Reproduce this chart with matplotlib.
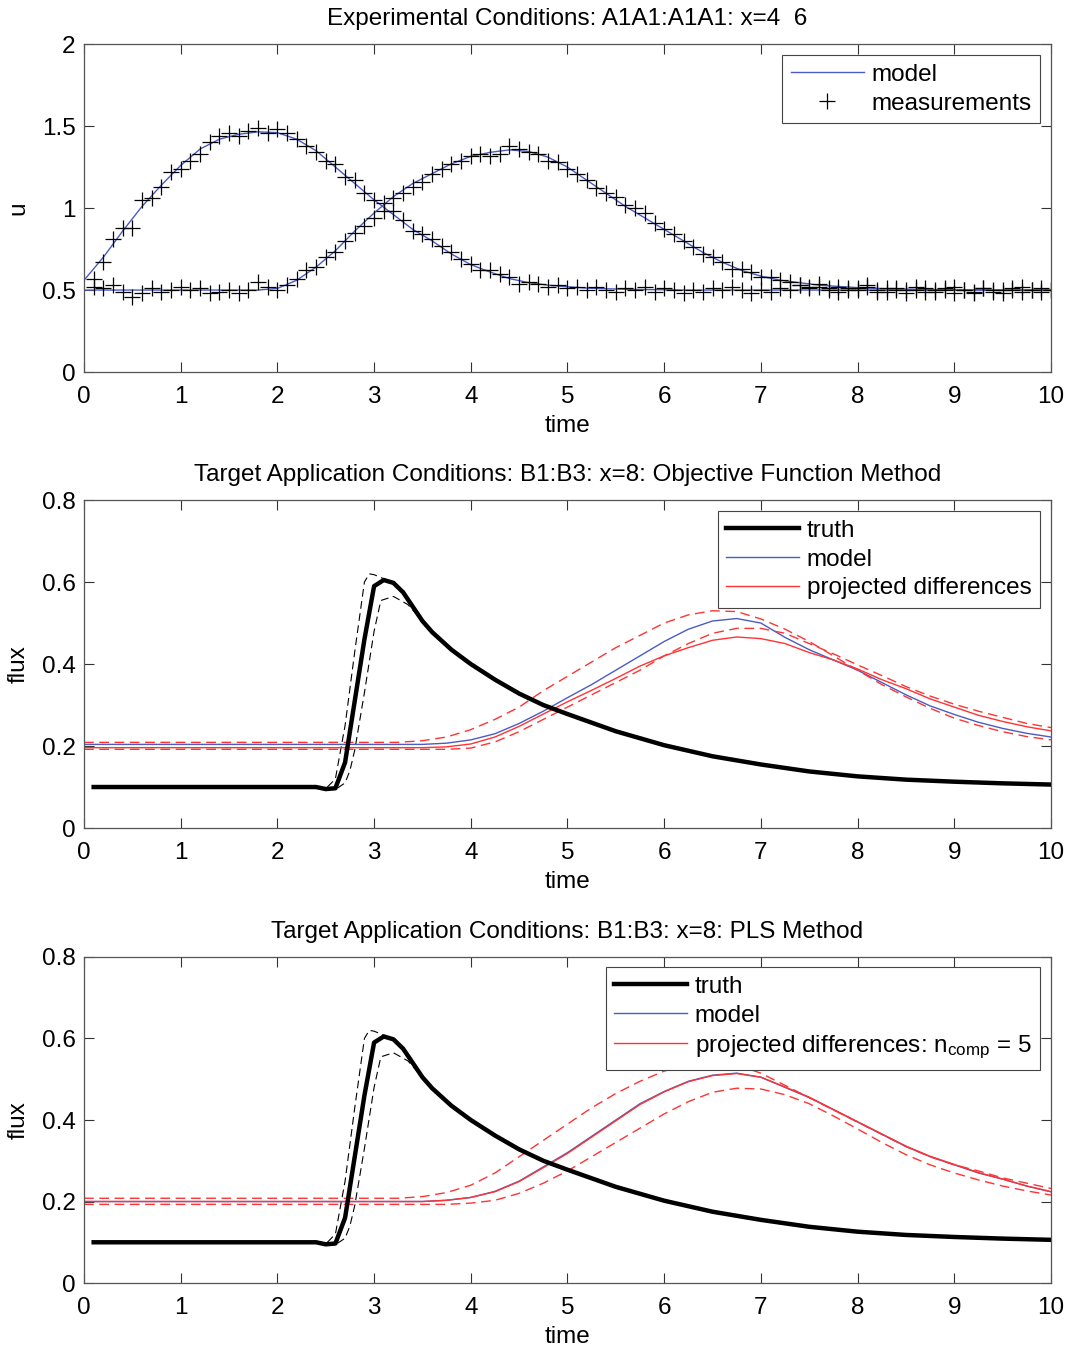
import numpy as np
import matplotlib
matplotlib.use("Agg")
import matplotlib.pyplot as plt

plt.rcParams['font.family'] = ['Liberation Sans', 'DejaVu Sans']
plt.rcParams['mathtext.fontset'] = 'custom'
plt.rcParams['mathtext.rm'] = 'Liberation Sans'
plt.rcParams['mathtext.it'] = 'Liberation Sans'

# ---- experimental conditions: model fit and measurements ----
t_model = np.linspace(0, 10, 51)
model_a = [0.56, 0.70, 0.86, 1.01, 1.14, 1.26, 1.36, 1.42, 1.45, 1.465,
           1.46, 1.42, 1.35, 1.25, 1.15, 1.05, 0.96, 0.87, 0.80, 0.72,
           0.655, 0.61, 0.57, 0.545, 0.53, 0.52, 0.512, 0.508, 0.505, 0.503,
           0.502, 0.5, 0.5, 0.5, 0.5, 0.5, 0.5, 0.5, 0.5, 0.5,
           0.5, 0.5, 0.5, 0.5, 0.5, 0.5, 0.5, 0.5, 0.5, 0.5, 0.5]
model_b = [0.5, 0.5, 0.5, 0.5, 0.5, 0.5, 0.5, 0.5, 0.5, 0.5,
           0.51, 0.56, 0.64, 0.74, 0.86, 0.97, 1.07, 1.15, 1.21, 1.27,
           1.315, 1.34, 1.355, 1.345, 1.31, 1.25, 1.17, 1.09, 1.01, 0.94,
           0.87, 0.80, 0.73, 0.67, 0.62, 0.585, 0.56, 0.545, 0.53, 0.522,
           0.515, 0.51, 0.507, 0.505, 0.503, 0.502, 0.5, 0.5, 0.5, 0.5, 0.5]

t_meas = np.linspace(0.1, 10, 100)
meas_a = [0.57, 0.67, 0.81, 0.88, 0.88, 1.05, 1.06, 1.13, 1.22, 1.24,
          1.29, 1.33, 1.40, 1.44, 1.46, 1.44, 1.47, 1.49, 1.46, 1.48,
          1.46, 1.42, 1.38, 1.34, 1.29, 1.27, 1.19, 1.17, 1.09, 1.05,
          1.03, 0.98, 0.93, 0.86, 0.84, 0.81, 0.77, 0.73, 0.69, 0.66,
          0.62, 0.62, 0.60, 0.58, 0.54, 0.55, 0.54, 0.52, 0.53, 0.51,
          0.52, 0.50, 0.52, 0.50, 0.49, 0.51, 0.50, 0.52, 0.49, 0.51,
          0.50, 0.48, 0.50, 0.49, 0.51, 0.50, 0.52, 0.50, 0.48, 0.50,
          0.49, 0.51, 0.50, 0.53, 0.51, 0.52, 0.50, 0.49, 0.51, 0.50,
          0.52, 0.49, 0.51, 0.50, 0.48, 0.50, 0.51, 0.49, 0.50, 0.52,
          0.50, 0.48, 0.51, 0.49, 0.50, 0.51, 0.49, 0.50, 0.51, 0.50]
meas_b = [0.52, 0.51, 0.53, 0.49, 0.46, 0.48, 0.51, 0.49, 0.50, 0.52,
          0.50, 0.51, 0.48, 0.49, 0.50, 0.48, 0.50, 0.55, 0.52, 0.50,
          0.53, 0.57, 0.62, 0.64, 0.70, 0.73, 0.80, 0.85, 0.89, 0.94,
          0.98, 1.06, 1.09, 1.13, 1.16, 1.21, 1.24, 1.27, 1.29, 1.32,
          1.33, 1.32, 1.33, 1.38, 1.36, 1.34, 1.33, 1.29, 1.28, 1.24,
          1.21, 1.17, 1.12, 1.09, 1.07, 1.02, 1.00, 0.97, 0.91, 0.87,
          0.84, 0.80, 0.76, 0.72, 0.70, 0.67, 0.63, 0.63, 0.61, 0.58,
          0.58, 0.56, 0.55, 0.53, 0.52, 0.54, 0.51, 0.52, 0.50, 0.51,
          0.53, 0.50, 0.49, 0.51, 0.50, 0.52, 0.49, 0.50, 0.51, 0.48,
          0.50, 0.49, 0.51, 0.50, 0.48, 0.50, 0.52, 0.50, 0.49, 0.50]

# ---- target application: truth and its bounds ----
truth_t = [0.1, 0.5, 1.0, 1.5, 2.0, 2.4, 2.5, 2.6, 2.7, 2.8, 2.9, 3.0, 3.1,
           3.2, 3.3, 3.4, 3.5, 3.6, 3.8, 4.0, 4.25, 4.5, 4.75, 5.0, 5.5,
           6.0, 6.5, 7.0, 7.5, 8.0, 8.5, 9.0, 9.5, 10.0]
truth = [0.10, 0.10, 0.10, 0.10, 0.10, 0.10, 0.095, 0.097, 0.16, 0.31,
         0.46, 0.59, 0.605, 0.598, 0.575, 0.54, 0.505, 0.478, 0.435, 0.40,
         0.362, 0.328, 0.30, 0.278, 0.236, 0.202, 0.175, 0.155, 0.138, 0.126,
         0.118, 0.113, 0.109, 0.106]
hi_t = [2.4, 2.5, 2.6, 2.7, 2.8, 2.9, 2.95, 3.0, 3.1, 3.2, 3.35, 3.5]
truth_hi = [0.10, 0.096, 0.12, 0.25, 0.43, 0.60, 0.62, 0.618, 0.608, 0.595,
            0.56, 0.51]
lo_t = [2.5, 2.6, 2.7, 2.75, 2.8, 2.9, 3.0, 3.07, 3.2, 3.35, 3.5, 3.6]
truth_lo = [0.095, 0.094, 0.11, 0.14, 0.19, 0.33, 0.48, 0.555, 0.565, 0.545,
            0.505, 0.478]

t_flux = np.linspace(0, 10, 41)
# objective function method
model_ofm = [0.204] * 15 + [
    0.207, 0.215, 0.23, 0.255, 0.285, 0.318, 0.35, 0.385, 0.42, 0.455,
    0.485, 0.505, 0.511, 0.50, 0.465, 0.435, 0.41, 0.385, 0.355, 0.325,
    0.298, 0.277, 0.258, 0.243, 0.231, 0.222]
proj_ofm = [0.196] * 15 + [
    0.198, 0.205, 0.222, 0.248, 0.278, 0.308, 0.336, 0.365, 0.395, 0.42,
    0.44, 0.458, 0.466, 0.462, 0.45, 0.428, 0.41, 0.388, 0.362, 0.34,
    0.315, 0.295, 0.275, 0.26, 0.247, 0.237]
proj_ofm_hi = [0.209] * 14 + [
    0.213, 0.222, 0.24, 0.265, 0.295, 0.335, 0.37, 0.405, 0.44, 0.47,
    0.50, 0.52, 0.53, 0.528, 0.51, 0.485, 0.455, 0.42, 0.385, 0.35,
    0.32, 0.292, 0.268, 0.25, 0.235, 0.223, 0.215]
proj_ofm_lo = [0.192] * 16 + [
    0.195, 0.21, 0.235, 0.265, 0.295, 0.325, 0.355, 0.385, 0.42, 0.45,
    0.475, 0.487, 0.487, 0.475, 0.45, 0.425, 0.398, 0.372, 0.345, 0.322,
    0.302, 0.285, 0.27, 0.255, 0.245]

# PLS method
model_pls = [0.2] * 15 + [
    0.203, 0.21, 0.225, 0.25, 0.285, 0.32, 0.36, 0.40, 0.44, 0.47,
    0.495, 0.51, 0.515, 0.505, 0.48, 0.455, 0.425, 0.395, 0.365, 0.335,
    0.31, 0.29, 0.27, 0.255, 0.238, 0.224]
proj_pls = [0.2] * 15 + [
    0.203, 0.21, 0.224, 0.249, 0.283, 0.318, 0.358, 0.398, 0.438, 0.469,
    0.494, 0.509, 0.514, 0.505, 0.481, 0.456, 0.426, 0.396, 0.366, 0.336,
    0.311, 0.291, 0.271, 0.255, 0.238, 0.224]
proj_pls_hi = [0.208] * 14 + [
    0.212, 0.222, 0.24, 0.27, 0.31, 0.35, 0.39, 0.43, 0.465, 0.495,
    0.52, 0.535, 0.54, 0.535, 0.515, 0.485, 0.455, 0.425, 0.395, 0.365,
    0.335, 0.31, 0.29, 0.275, 0.258, 0.245, 0.232]
proj_pls_lo = [0.193] * 16 + [
    0.196, 0.203, 0.22, 0.245, 0.275, 0.31, 0.345, 0.38, 0.415, 0.445,
    0.468, 0.478, 0.476, 0.462, 0.44, 0.41, 0.378, 0.345, 0.315, 0.29,
    0.27, 0.253, 0.238, 0.226, 0.216]

blue = '#4a5cc4'
red = '#ff3333'
fs = 17.5

fig = plt.figure(figsize=(10.7, 13.49), dpi=100)


def style_axes(ax, ylim, yticks, yticklabels, ylabel):
    ax.set_xlim(0, 10)
    ax.set_ylim(*ylim)
    ax.set_xticks(range(11))
    ax.set_xticklabels([str(i) for i in range(11)])
    ax.set_yticks(yticks)
    ax.set_yticklabels(yticklabels)
    ax.tick_params(direction='in', length=7, width=0.8, top=True, right=True,
                   labelsize=fs, colors='#333333', labelcolor='black')
    ax.tick_params(axis='x', pad=10)
    ax.tick_params(axis='y', pad=6)
    for s in ax.spines.values():
        s.set_color('#555555')
        s.set_linewidth(0.9)
    ax.set_xlabel('time', fontsize=fs, labelpad=5)
    ax.set_ylabel(ylabel, fontsize=fs, labelpad=9)


def add_legend(ax, top):
    leg = ax.legend(loc='upper right', bbox_to_anchor=(0.972, top),
                    bbox_transform=fig.transFigure, fontsize=fs, handlelength=3.0,
                    fancybox=False, framealpha=1, borderpad=0.36, labelspacing=0.28,
                    handletextpad=0.3, borderaxespad=0)
    leg.get_frame().set_edgecolor('#444444')
    leg.get_frame().set_linewidth(0.8)
    return leg


# top: experimental conditions
ax1 = fig.add_axes([0.0785, 0.7242, 0.9037, 0.2431])
ax1.plot(t_model, model_a, color=blue, lw=1.0, label='model')
ax1.plot(t_model, model_b, color=blue, lw=1.0)
ax1.plot(t_meas, meas_a, '+', color='black', ms=11, mew=0.9, label='measurements')
ax1.plot(t_meas, meas_b, '+', color='black', ms=11, mew=0.9)
style_axes(ax1, (0, 2), [0, 0.5, 1, 1.5, 2], ['0', '0.5', '1', '1.5', '2'], 'u')
ax1.set_title('Experimental Conditions: A1A1:A1A1: x=4  6', fontsize=fs, pad=14)
add_legend(ax1, 0.9592)


def flux_panel(rect, title, model, proj, proj_hi, proj_lo, proj_label):
    ax = fig.add_axes(rect)
    ax.plot(truth_t, truth, color='black', lw=3.2, label='truth', zorder=3)
    ax.plot(hi_t, truth_hi, color='black', lw=0.8, ls=(0, (7, 4)), zorder=2)
    ax.plot(lo_t, truth_lo, color='black', lw=0.8, ls=(0, (7, 4)), zorder=2)
    ax.plot(t_flux, model, color=blue, lw=1.0, label='model', zorder=2)
    ax.plot(t_flux, proj, color=red, lw=1.0, label=proj_label, zorder=2)
    ax.plot(t_flux, proj_hi, color=red, lw=1.0, ls=(0, (7, 4)), zorder=2)
    ax.plot(t_flux, proj_lo, color=red, lw=1.0, ls=(0, (7, 4)), zorder=2)
    style_axes(ax, (0, 0.8), [0, 0.2, 0.4, 0.6, 0.8],
               ['0', '0.2', '0.4', '0.6', '0.8'], 'flux')
    ax.set_title(title, fontsize=fs, pad=14)
    return ax


ax2 = flux_panel([0.0785, 0.3862, 0.9037, 0.2431],
                 'Target Application Conditions: B1:B3: x=8: Objective Function Method',
                 model_ofm, proj_ofm, proj_ofm_hi, proj_ofm_lo, 'projected differences')
add_legend(ax2, 0.6212)

ax3 = flux_panel([0.0785, 0.0489, 0.9037, 0.2417],
                 'Target Application Conditions: B1:B3: x=8: PLS Method',
                 model_pls, proj_pls, proj_pls_hi, proj_pls_lo,
                 r'projected differences: n$_{\rm comp}$ = 5')
add_legend(ax3, 0.2832)

fig.savefig('out.png', dpi=100)
